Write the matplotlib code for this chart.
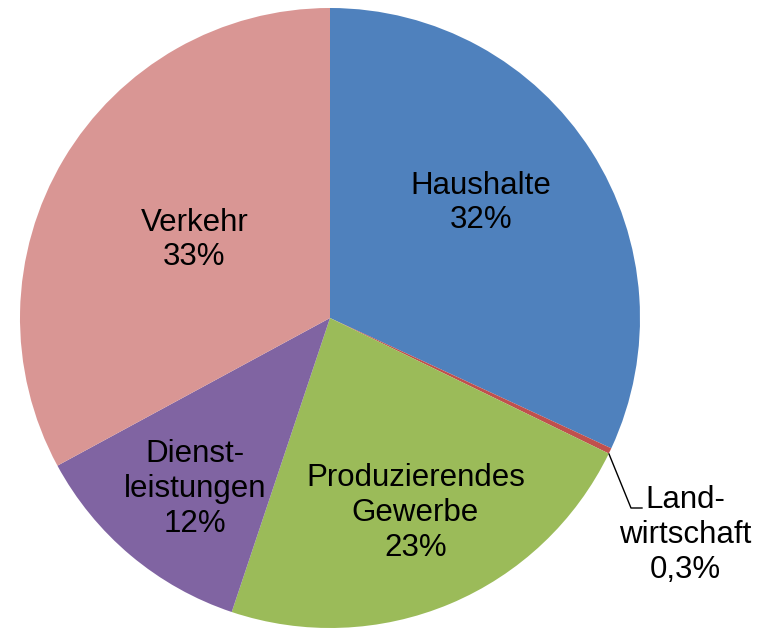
import matplotlib.pyplot as plt

categories = ["Haushalte", "Landwirtschaft", "Produzierendes Gewerbe", "Dienstleistungen", "Verkehr"]
values = [32, 0.3, 23, 12, 33]
label_texts = ["Haushalte\n32%", "Land-\nwirtschaft\n0,3%", "Produzierendes\nGewerbe\n23%", "Dienst-\nleistungen\n12%", "Verkehr\n33%"]
colors = ["#4F81BD", "#C0504D", "#9BBB59", "#8064A2", "#D99694"]

plt.rcParams['font.family'] = ['Liberation Sans', 'DejaVu Sans']
fig = plt.figure(figsize=(7.65, 6.3), dpi=100)
ax = fig.add_axes([0, 0, 1, 1])

H = 630
cx, cy, r = 330, H - 318, 310
ax.pie(values, colors=colors, startangle=90, counterclock=False,
       center=(cx, cy), radius=r, wedgeprops=dict(linewidth=0),
       frame=True)
ax.set_xlim(0, 765)
ax.set_ylim(0, H)
ax.set_aspect('equal')
ax.axis('off')

pos = [(481, H - 203), (685, H - 535), (415.5, H - 513), (195, H - 489), (194.5, H - 240)]
for (x, y), t in zip(pos, label_texts):
    ax.text(x, y, t, ha='center', va='center', fontsize=22.5, color='black', linespacing=1.2)

# leader line for Landwirtschaft
ax.plot([609, 631, 642], [H - 454, H - 508, H - 508], color='black', lw=1)

fig.savefig("out.png", dpi=100)
